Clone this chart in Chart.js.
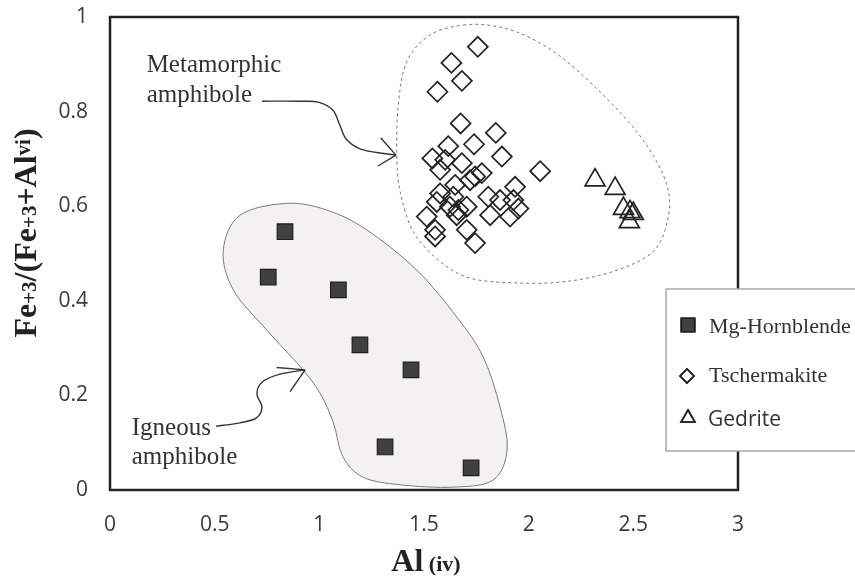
<!DOCTYPE html>
<html>
<head>
<meta charset="utf-8">
<script src="https://cdn.jsdelivr.net/npm/chart.js@4/dist/chart.umd.min.js"></script>
<style>
  html, body { margin: 0; padding: 0; background: #fff; }
  #wrap { width: 855px; height: 579px; }
</style>
</head>
<body>
<div id="wrap"><canvas id="amph" width="855" height="579"></canvas></div>
<script>
// axis ticks
const xTicks = [0, 0.5, 1, 1.5, 2, 2.5, 3];
const yTicks = [0, 0.2, 0.4, 0.6, 0.8, 1];

// Mg-Hornblende (igneous)
const hornX = [0.836, 0.756, 1.091, 1.194, 1.438, 1.314, 1.725];
const hornY = [0.546, 0.450, 0.423, 0.307, 0.254, 0.091, 0.047];

// Tschermakite (metamorphic)
const tschX = [1.757, 1.631, 1.681, 1.564, 1.675, 1.843, 1.739, 1.616, 1.872, 2.055,
               1.540, 1.601, 1.681, 1.577, 1.776, 1.744, 1.720, 1.649, 1.935, 1.577,
               1.640, 1.807, 1.863, 1.927, 1.951, 1.561, 1.624, 1.664, 1.704, 1.816,
               1.911, 1.513, 1.656, 1.553, 1.704, 1.553, 1.744];
const tschY = [0.937, 0.903, 0.865, 0.842, 0.775, 0.755, 0.731, 0.727, 0.705, 0.674,
               0.701, 0.698, 0.691, 0.677, 0.670, 0.663, 0.655, 0.645, 0.641, 0.627,
               0.620, 0.620, 0.613, 0.613, 0.595, 0.609, 0.599, 0.592, 0.599, 0.581,
               0.578, 0.578, 0.581, 0.550, 0.550, 0.536, 0.522];

// Gedrite
const gedX = [2.317, 2.413, 2.453, 2.484, 2.500, 2.481];
const gedY = [0.655, 0.637, 0.595, 0.588, 0.584, 0.567];

// field outlines, in data units
const igneousField = [[0.844, 0.606], [1.035, 0.592], [1.226, 0.550], [1.465, 0.465], [1.656, 0.366],
                      [1.782, 0.282], [1.863, 0.176], [1.897, 0.085], [1.830, 0.021], [1.639, 0.006],
                      [1.386, 0.011], [1.209, 0.027], [1.113, 0.070], [1.067, 0.142], [1.003, 0.205],
                      [0.908, 0.261], [0.749, 0.338], [0.589, 0.423], [0.541, 0.507], [0.621, 0.581]];
const metaField = [[1.688, 0.983], [1.848, 0.980], [2.007, 0.956], [2.182, 0.906], [2.403, 0.814],
                   [2.564, 0.729], [2.660, 0.645], [2.666, 0.575], [2.594, 0.504], [2.403, 0.462],
                   [2.164, 0.440], [1.925, 0.438], [1.720, 0.448], [1.577, 0.483], [1.449, 0.546],
                   [1.386, 0.631], [1.370, 0.708], [1.377, 0.814], [1.418, 0.906], [1.529, 0.962]];

// label arrows, in data units (last point is the tip)
const metaArrow = [[0.726, 0.822], [0.908, 0.822], [0.994, 0.820], [1.065, 0.803], [1.099, 0.770],
                   [1.132, 0.740], [1.209, 0.719], [1.366, 0.708]];
const metaHead = [[1.294, 0.744], [1.280, 0.685]];
const ignArrow = [[0.506, 0.135], [0.621, 0.142], [0.698, 0.152], [0.726, 0.175], [0.702, 0.203],
                  [0.726, 0.228], [0.812, 0.245], [0.932, 0.254]];
const ignHead = [[0.796, 0.259], [0.860, 0.208]];

const metaLabel = ['Metamorphic', 'amphibole'];
const metaLabelPos = [[0.175, 0.884], [0.175, 0.821]];
const ignLabel = ['Igneous', 'amphibole'];
const ignLabelPos = [[0.104, 0.116], [0.104, 0.056]];

const seriesNames = ['Mg-Hornblende', 'Tschermakite', 'Gedrite'];

function toPoints(xs, ys) {
    return xs.map((x, i) => ({x: x, y: ys[i]}));
}

// catmull-rom through a list of pixel points
function smoothPath(ctx, pts, closed) {
    const n = pts.length;
    ctx.moveTo(pts[0][0], pts[0][1]);
    const last = closed ? n : n - 1;
    for (let i = 0; i < last; i++) {
        const p0 = pts[closed ? (i - 1 + n) % n : Math.max(i - 1, 0)];
        const p1 = pts[i];
        const p2 = pts[(i + 1) % n];
        const p3 = pts[closed ? (i + 2) % n : Math.min(i + 2, n - 1)];
        ctx.bezierCurveTo(
            p1[0] + (p2[0] - p0[0]) / 6, p1[1] + (p2[1] - p0[1]) / 6,
            p2[0] - (p3[0] - p1[0]) / 6, p2[1] - (p3[1] - p1[1]) / 6,
            p2[0], p2[1]);
    }
    if (closed) ctx.closePath();
}

function px(chart, p) {
    return [chart.scales.x.getPixelForValue(p[0]), chart.scales.y.getPixelForValue(p[1])];
}

// draws text pieces [text, font, dy] one after another
function drawRuns(ctx, runs, x, y) {
    let cx = x;
    runs.forEach(r => {
        ctx.font = r[1];
        ctx.fillText(r[0], cx, y + (r[2] || 0));
        cx += ctx.measureText(r[0]).width;
    });
    return cx - x;
}

function runsWidth(ctx, runs) {
    let w = 0;
    runs.forEach(r => { ctx.font = r[1]; w += ctx.measureText(r[0]).width; });
    return w;
}

const serif = '"Liberation Serif", "Times New Roman", serif';

// fields go under the markers
const fieldsPlugin = {
    id: 'fields',
    beforeDatasetsDraw(chart) {
        const ctx = chart.ctx;
        ctx.save();
        ctx.beginPath();
        smoothPath(ctx, igneousField.map(p => px(chart, p)), true);
        ctx.fillStyle = '#f4f2f0';
        ctx.fill();
        ctx.strokeStyle = '#7a7a7a';
        ctx.lineWidth = 1;
        ctx.stroke();

        ctx.beginPath();
        smoothPath(ctx, metaField.map(p => px(chart, p)), true);
        ctx.setLineDash([3, 3]);
        ctx.strokeStyle = '#777';
        ctx.lineWidth = 1;
        ctx.stroke();
        ctx.setLineDash([]);

        // arrows
        [[metaArrow, metaHead], [ignArrow, ignHead]].forEach(a => {
            const pts = a[0].map(p => px(chart, p));
            ctx.beginPath();
            smoothPath(ctx, pts, false);
            ctx.strokeStyle = '#333';
            ctx.lineWidth = 1.4;
            ctx.stroke();
            const tip = pts[pts.length - 1];
            ctx.beginPath();
            a[1].forEach(h => {
                const hp = px(chart, h);
                ctx.moveTo(hp[0], hp[1]);
                ctx.lineTo(tip[0], tip[1]);
            });
            ctx.stroke();
        });

        // field labels
        ctx.fillStyle = '#333';
        ctx.font = '25px ' + serif;
        ctx.textBaseline = 'alphabetic';
        ctx.textAlign = 'left';
        metaLabel.forEach((t, i) => {
            const p = px(chart, metaLabelPos[i]);
            ctx.fillText(t, p[0], p[1]);
        });
        ignLabel.forEach((t, i) => {
            const p = px(chart, ignLabelPos[i]);
            ctx.fillText(t, p[0], p[1]);
        });
        ctx.restore();
    }
};

// frame, axis titles and legend box
const decorPlugin = {
    id: 'decor',
    afterDraw(chart) {
        const ctx = chart.ctx;
        const a = chart.chartArea;
        ctx.save();
        ctx.strokeStyle = '#222';
        ctx.lineWidth = 2.5;
        ctx.strokeRect(a.left, a.top, a.right - a.left, a.bottom - a.top);

        ctx.fillStyle = '#222';
        ctx.textBaseline = 'alphabetic';
        ctx.textAlign = 'left';

        // x title: Al (iv)
        const xRuns = [['Al', 'bold 32px ' + serif], [' (iv)', 'bold 22px ' + serif]];
        const xw = runsWidth(ctx, xRuns);
        drawRuns(ctx, xRuns, (a.left + a.right) / 2 - xw / 2 + 2, 571);

        // y title: Fe+3/(Fe+3+Alvi)
        const big = 'bold 32px ' + serif;
        const small = 'bold 21px ' + serif;
        const yRuns = [['Fe', big], ['+3', small], ['/(Fe', big], ['+3', small],
                       ['+Al', big], ['vi', small, -6], [')', big]];
        const yw = runsWidth(ctx, yRuns);
        ctx.translate(36, 233);
        ctx.rotate(-Math.PI / 2);
        drawRuns(ctx, yRuns, -yw / 2, 0);
        ctx.setTransform(1, 0, 0, 1, 0, 0);

        // legend
        ctx.strokeStyle = '#aaa';
        ctx.lineWidth = 1.5;
        ctx.fillStyle = '#fff';
        ctx.beginPath();
        ctx.rect(666, 289, 200, 162);
        ctx.fill();
        ctx.stroke();

        const ds = chart.data.datasets;
        const rows = [[688, 325, 709, 333, '22px ' + serif, 9.5],
                      [687, 376, 709, 382, '22px ' + serif, 7],
                      [688, 418, 708, 426, '21px "Open Sans", sans-serif', 8]];
        rows.forEach((r, i) => {
            ctx.fillStyle = ds[i].backgroundColor;
            ctx.strokeStyle = ds[i].borderColor;
            ctx.lineWidth = 1.6;
            Chart.helpers.drawPoint(ctx, {pointStyle: ds[i].pointStyle, radius: r[5], rotation: 0, borderWidth: 1.6}, r[0], r[1]);
            ctx.fill();
            ctx.stroke();
            ctx.fillStyle = '#333';
            ctx.font = r[4];
            ctx.fillText(seriesNames[i], r[2], r[3]);
        });
        ctx.restore();
    }
};

window.chartReference = new Chart(document.getElementById('amph'), {
    type: 'scatter',
    data: {
        datasets: [
            {
                label: seriesNames[0],
                data: toPoints(hornX, hornY),
                pointStyle: 'rect',
                pointRadius: 11,
                backgroundColor: '#404040',
                borderColor: '#1e1e1e',
                borderWidth: 1.2
            },
            {
                label: seriesNames[1],
                data: toPoints(tschX, tschY),
                pointStyle: 'rectRot',
                pointRadius: 10,
                backgroundColor: 'rgba(0,0,0,0)',
                borderColor: '#222',
                borderWidth: 1.7
            },
            {
                label: seriesNames[2],
                data: toPoints(gedX, gedY),
                pointStyle: 'triangle',
                pointRadius: 11.5,
                backgroundColor: 'rgba(0,0,0,0)',
                borderColor: '#222',
                borderWidth: 1.7
            }
        ]
    },
    options: {
        responsive: false,
        animation: false,
        layout: { padding: { left: 0, right: 117, top: 17, bottom: 0 } },
        plugins: {
            legend: { display: false },
            tooltip: { enabled: false }
        },
        scales: {
            x: {
                type: 'linear',
                min: 0,
                max: 3,
                afterBuildTicks: (s) => { s.ticks = xTicks.map(v => ({value: v})); },
                afterFit: (s) => { s.height = 89; s.paddingLeft = 0; s.paddingRight = 0; },
                grid: { display: false, drawTicks: false },
                border: { display: false },
                ticks: {
                    padding: 22,
                    color: '#3a3a3a',
                    font: { family: '"Open Sans", sans-serif', size: 21 },
                    callback: (v) => String(v)
                }
            },
            y: {
                type: 'linear',
                min: 0,
                max: 1,
                afterBuildTicks: (s) => { s.ticks = yTicks.map(v => ({value: v})); },
                afterFit: (s) => { s.width = 110; s.paddingTop = 0; s.paddingBottom = 0; },
                grid: { display: false, drawTicks: false },
                border: { display: false },
                ticks: {
                    padding: 22,
                    color: '#3a3a3a',
                    font: { family: '"Open Sans", sans-serif', size: 21 },
                    callback: (v) => String(v)
                }
            }
        }
    },
    plugins: [fieldsPlugin, decorPlugin]
});
</script>
</body>
</html>
